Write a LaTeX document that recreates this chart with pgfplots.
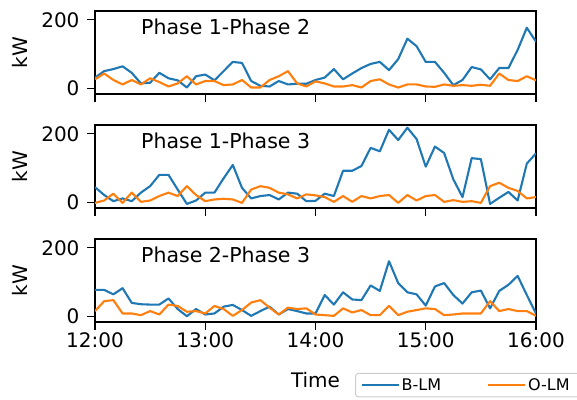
\documentclass[border=0pt]{standalone}
\usepackage{fontspec}
\setmainfont{DejaVu Sans}
\usepackage{pgfplots}
\usepackage{pgfplotstable}
\pgfplotsset{compat=1.18}
\definecolor{cB}{HTML}{1F77B4}
\definecolor{cO}{HTML}{FF7F0E}
\definecolor{legframe}{HTML}{CCCCCC}

% t in minutes after 12:00
\pgfplotstableread{
t   b1  o1  b2  o2  b3  o3
0   31  26  44  -2  77  15
5   50  43  21  5   77  44
10  56  24  3   25  64  47
15  64  11  11  -2  82  8
20  45  24  3   28  39  8
25  14  11  28  1   35  3
30  16  29  47  5   34  15
35  45  18  80  18  34  5
40  29  5   80  28  52  34
45  23  14  37  18  21  30
50  2   35  -5  47  0   13
55  35  11  5   21  21  15
60  40  21  28  3   5   8
65  23  21  28  8   8   30
70  50  9   70  10  28  21
75  77  11  109 8   33  1
80  74  24  42  -2  18  18
85  21  2   11  37  1   40
90  7   2   18  47  15  47
95  5   24  21  42  28  25
100 21  35  8   28  5   5
105 11  50  28  23  21  25
110 13  14  25  11  15  21
115 13  5   3   23  8   23
120 24  20  4   20  8   5
125 31  14  25  15  62  3
130 56  5   18  1   34  1
135 26  5   92  18  70  23
140 43  9   92  1   49  11
145 59  2   106 18  47  18
150 71  21  159 11  90  3
155 77  26  149 18  74  3
160 53  11  212 21  161 30
165 85  2   182 -2  97  3
170 145 11  218 21  70  13
175 123 11  185 5   64  18
180 77  5   104 18  31  23
185 77  4   163 21  87  21
190 45  11  144 1   97  3
195 9   7   67  6   62  5
200 24  9   15  1   37  8
205 62  7   129 3   70  8
210 55  10  126 -2  75  8
215 26  7   -5  47  23  44
220 59  43  13  57  74  15
225 59  24  30  42  92  21
230 112 21  5   33  118 15
235 177 35  113 11  62  15
240 136 23  143 15  8   1
}\data

\pgfplotsset{
  panel/.style={
    scale only axis, width=441pt, height=83pt,
    anchor=north west,
    xmin=0, xmax=240, ymin=-17, ymax=226,
    xtick={0,60,120,180,240},
    ytick={0,200},
    axis line style={line width=1.1pt, black},
    tick align=outside, tick pos=left,
    major tick length=7.5pt,
    every tick/.style={black, line width=1.1pt},
    every tick label/.append style={font=\fontsize{20}{24}\selectfont},
    yticklabel style={xshift=-4.5pt},
    /pgf/number format/assume math mode=true,
    ylabel={kW},
    every axis y label/.style={at={(axis description cs:-0.170,0.5)}, rotate=90, anchor=center, font=\fontsize{20}{24}\selectfont},
    every axis plot/.append style={line width=2.1pt, line join=round},
  },
}
\tikzset{lbl/.style={anchor=base west, inner sep=0pt, font=\fontsize{20.5}{24}\selectfont}}

\begin{document}
\begin{tikzpicture}
\path[use as bounding box] (-95pt,11pt) rectangle (482pt,-388pt);

\begin{axis}[panel, at={(0pt,0pt)}, xticklabels={}]
\addplot[cB] table[x=t, y=b1] {\data};
\addplot[cO] table[x=t, y=o1] {\data};
\node[lbl] at (rel axis cs:0.1043,0.711) {Phase 1-Phase 2};
\end{axis}

\begin{axis}[panel, at={(0pt,-114pt)}, xticklabels={}]
\addplot[cB] table[x=t, y=b2] {\data};
\addplot[cO] table[x=t, y=o2] {\data};
\node[lbl] at (rel axis cs:0.1043,0.711) {Phase 1-Phase 3};
\end{axis}

\begin{axis}[panel, at={(0pt,-228pt)},
  xticklabels={12:00,13:00,14:00,15:00,16:00},
  xlabel={Time},
  every axis x label/.style={at={(axis description cs:0.5,-0.70)}, anchor=center, font=\fontsize{20}{24}\selectfont},
  legend columns=2,
  legend image code/.code={\draw[#1, line width=2.1pt] (0pt,0pt) -- (37pt,0pt);},
  legend style={at={(axis description cs:0.5896,-0.614)}, anchor=north west,
    draw=legframe, line width=1pt, rounded corners=3pt, fill=white,
    font=\fontsize{16}{19}\selectfont, inner xsep=5pt, inner ysep=3pt},
]
\addplot[cB] table[x=t, y=b3] {\data};
\addlegendentry{B-LM\hspace*{44pt}\null}
\addplot[cO] table[x=t, y=o3] {\data};
\addlegendentry{O-LM\hspace*{14pt}\null}
\node[lbl] at (rel axis cs:0.1043,0.711) {Phase 2-Phase 3};
\end{axis}
\end{tikzpicture}
\end{document}
